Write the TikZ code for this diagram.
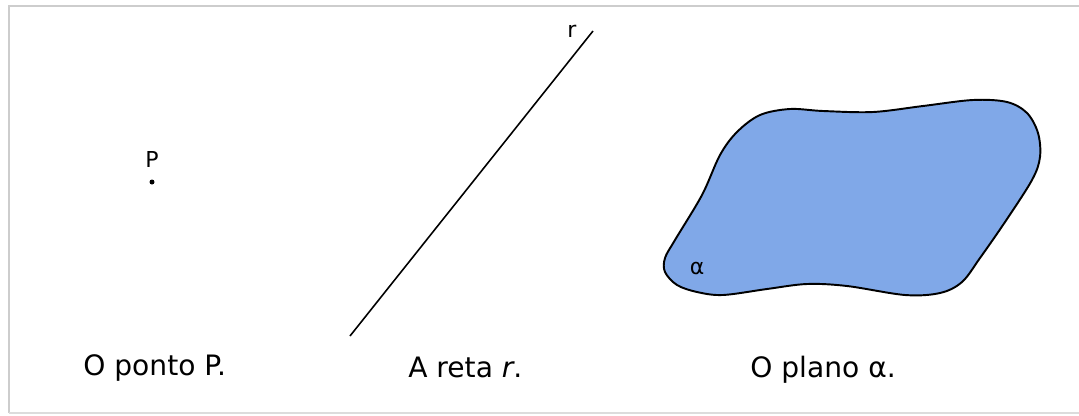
\documentclass[tikz,border=0pt]{standalone}
\usepackage{fontspec}
\setmainfont{DejaVu Sans}

\definecolor{planefill}{RGB}{128,168,232}
\definecolor{framegray}{RGB}{205,205,205}

\begin{document}
\begin{tikzpicture}[x=0.02cm, y=-0.02cm,
    caption/.style={font=\fontsize{16}{19}\selectfont, inner sep=0pt, anchor=base west},
    tag/.style={font=\fontsize{12.5}{15}\selectfont, inner sep=1pt}]
    \useasboundingbox (0,0) rectangle (1079,416);
    \draw[framegray, line width=1.6pt] (9,413) -- (9,6) -- (1079,6);
    \draw[framegray!70, line width=1pt] (9,413) -- (1079,413);

    \coordinate (pt) at (152,182);
    \fill (pt) circle (0.05cm);
    \node[tag] (plab) at (152,159) {P};

    \coordinate (rbot) at (350,336);
    \coordinate (rtop) at (593,31);
    \draw[line width=0.9pt] (rbot) -- (rtop);
    \node[tag] (rlab) at (572,31) {r};

    \draw[fill=planefill, line width=1.1pt] plot[smooth cycle, tension=0.55] coordinates {
        (737,132) (760,115) (790,109) (823,111) (873,112) (923,106) (973,100)
        (1007,102) (1027,113) (1038,133) (1040,157) (1032,180) (1005,222)
        (980,258) (962,282) (940,293) (905,295) (847,286)
        (807,284) (767,289) (723,295) (697,292) (677,285) (665,272) (665,258)
        (675,240) (702,195) (720,155)};
    \node[tag] (alab) at (697,268) {α};

    \node[caption] (cap1) at (83,375) {O ponto P.};
    \node[caption] (cap2) at (408,377) {A reta \textit{r}.};
    \node[caption] (cap3) at (750,377) {O plano α.};
\end{tikzpicture}
\end{document}
